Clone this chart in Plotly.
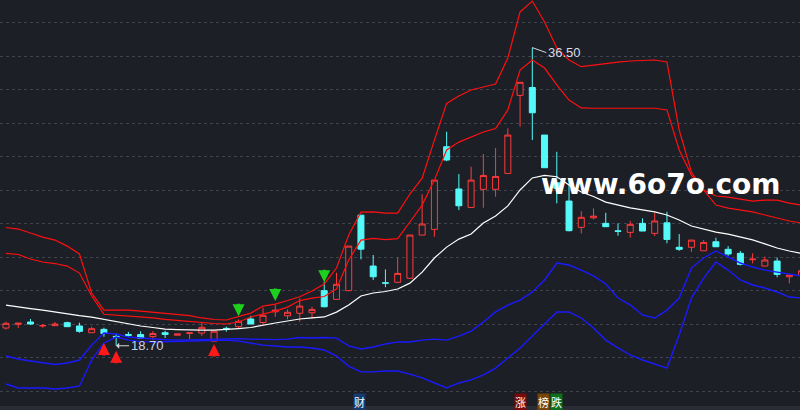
import plotly.graph_objects as go

# ---- data ----
idx = list(range(66))
opens = [19.76,19.98,20.12,19.88,19.90,20.08,19.88,19.48,19.68,19.26,19.37,19.37,19.25,19.48,19.33,19.44,19.46,18.98,19.74,19.84,
         20.30,20.09,20.73,20.49,20.64,20.67,21.99,21.47,21.99,26.50,23.46,22.46,22.49,22.73,25.31,25.65,30.58,28.06,26.96,28.04,
         28.04,28.99,33.65,34.12,31.28,28.43,27.34,25.77,26.34,26.01,25.56,25.47,26.01,25.41,26.04,24.58,24.58,24.37,24.91,24.46,
         24.22,23.84,23.46,23.76,22.82,22.90]
highs = [20.15,20.06,20.30,20.00,20.12,20.14,20.08,19.84,19.78,19.43,19.53,19.57,19.57,19.60,19.41,19.47,20.08,19.57,19.84,20.27,
         20.49,20.98,21.13,20.87,21.53,21.03,22.52,23.06,24.65,26.50,24.12,23.26,23.96,25.31,27.74,28.59,31.48,28.95,29.39,30.15,
         30.50,31.68,34.43,36.50,31.28,30.28,28.64,26.74,26.90,26.64,26.01,26.16,26.31,26.64,26.70,25.37,25.01,25.01,25.15,24.65,
         24.36,24.22,24.02,23.96,22.92,23.20]
lows = [19.67,19.76,19.95,19.78,19.90,19.84,19.48,19.48,19.24,18.70,19.24,19.12,19.07,19.16,19.33,19.09,19.30,18.98,19.54,19.70,
        19.98,19.94,20.43,20.28,20.13,20.34,21.00,21.45,21.99,23.86,22.62,22.20,22.49,22.73,25.31,25.21,29.72,26.80,26.96,26.94,
        27.60,28.99,31.78,30.98,29.33,27.20,25.53,25.41,26.25,25.79,25.27,25.15,25.55,25.25,24.82,24.37,24.31,24.37,24.61,24.07,
        23.50,23.62,23.46,22.79,22.43,22.90]
closes = [20.04,20.05,20.00,19.91,20.00,19.84,19.56,19.72,19.43,19.22,19.33,19.15,19.43,19.38,19.41,19.47,19.80,19.57,19.70,20.16,
          20.00,20.52,20.83,20.70,21.07,20.87,21.03,22.37,24.65,24.47,22.82,22.44,23.02,25.31,25.97,28.59,29.79,27.06,28.59,28.87,
          28.81,31.28,34.43,32.61,29.33,28.10,25.57,26.37,26.44,25.81,25.53,25.95,25.55,26.15,25.05,24.46,25.01,24.87,24.61,24.18,
          23.56,23.87,23.82,22.96,22.92,23.18]

mid_line = [21.13,21.01,20.92,20.83,20.71,20.59,20.50,20.41,20.27,20.12,20.00,19.88,19.79,19.70,19.67,19.64,19.64,19.64,19.67,19.73,
            19.79,19.94,20.06,20.18,20.30,20.36,20.42,20.71,21.13,21.67,21.85,21.94,22.09,22.44,23.10,23.94,24.59,25.07,25.37,26.03,
            26.45,27.05,28.00,28.72,28.87,28.79,28.30,27.88,27.61,27.28,27.10,26.93,26.81,26.69,26.51,26.21,25.85,25.67,25.49,25.37,
            25.19,25.02,24.78,24.54,24.36,24.21]
upper_outer = [25.76,25.67,25.43,25.19,25.01,24.65,24.18,21.85,20.83,20.83,20.83,20.77,20.71,20.65,20.59,20.50,20.36,20.27,20.24,20.43,
               20.65,21.07,21.19,21.40,21.63,21.97,22.39,23.34,25.31,26.68,26.70,26.62,26.62,27.76,28.71,30.98,33.17,33.61,33.97,34.15,
               34.33,35.88,38.63,39.28,38.03,36.48,35.76,35.36,35.46,35.56,35.64,35.70,35.73,35.76,35.64,31.58,29.07,28.00,27.64,27.58,
               27.46,27.34,27.40,27.40,27.22,27.10]
upper_inner = [24.22,24.15,23.88,23.70,23.61,23.46,23.04,21.67,20.58,20.53,20.50,20.45,20.36,20.28,20.21,20.18,20.09,20.03,20.00,20.12,
               20.42,20.59,20.77,21.01,21.40,21.55,21.64,22.09,23.82,25.01,25.11,25.04,25.10,26.09,27.10,28.59,30.39,30.86,31.16,31.46,
               31.67,32.78,35.16,35.76,35.28,34.27,33.37,32.90,32.88,32.88,32.88,32.88,32.88,32.88,32.78,30.39,28.89,28.00,27.10,26.92,
               26.81,26.69,26.51,26.33,26.15,26.03]
lower_inner = [18.09,17.91,17.79,17.67,17.58,17.67,17.85,18.74,19.46,19.40,19.22,19.16,19.10,19.07,19.04,19.04,19.07,19.10,19.13,19.13,
               19.10,19.07,19.07,19.10,19.19,19.16,19.19,19.16,18.69,18.51,18.63,18.81,18.93,18.93,19.04,19.10,19.04,19.28,19.58,20.12,
               20.72,21.13,21.43,21.91,22.63,23.64,23.52,23.22,22.87,22.39,21.55,21.14,20.54,20.36,20.83,21.55,23.34,23.94,24.36,24.00,
               23.64,23.40,23.22,23.10,22.98,22.87]
lower_outer = [16.42,16.18,16.18,16.18,16.12,16.18,16.30,17.85,18.87,19.22,19.04,18.95,18.93,18.95,18.98,19.01,19.04,19.04,19.04,18.98,
               18.87,18.74,18.69,18.63,18.63,18.57,18.45,18.09,17.49,17.14,17.14,17.19,17.19,17.01,16.78,16.48,16.18,16.48,16.66,16.96,
               17.37,17.97,18.57,19.28,20.00,20.72,20.72,20.36,19.76,19.04,18.57,18.15,17.85,17.61,17.37,19.34,21.55,22.74,23.70,23.22,
               22.63,22.33,22.15,21.91,21.61,21.55]

buy_idx = [8, 9, 17]
buy_tip = [18.86, 18.40, 18.80]
sell_idx = [19, 22, 26]
sell_tip = [20.47, 21.37, 22.50]

high_label = (43, 36.50, "36.50")
low_label = (9, 18.70, "18.70")
bottom_tags = [("财", 359, "#173a70"), ("涨", 520, "#7a0a0a"), ("榜", 543.5, "#7a4608"), ("跌", 556.5, "#0e6e1a")]

BG = "#1c1f26"
RED = "#ff3b3b"
CYAN = "#54fafa"

fig = go.Figure()
fig.add_trace(go.Candlestick(
    x=idx, open=opens, high=highs, low=lows, close=closes,
    increasing=dict(line=dict(color=RED, width=1), fillcolor=BG),
    decreasing=dict(line=dict(color=CYAN, width=1), fillcolor=CYAN),
    whiskerwidth=0, hoverinfo="skip", showlegend=False))

for ys, col, w in [(upper_outer, "#ff1010", 1.2), (upper_inner, "#ff1010", 1.2),
                   (mid_line, "#ffffff", 1.2), (lower_inner, "#1a1aff", 1.4), (lower_outer, "#1a1aff", 1.4)]:
    fig.add_trace(go.Scatter(x=idx, y=ys, mode="lines", line=dict(color=col, width=w),
                             hoverinfo="skip", showlegend=False))

for i, t in zip(buy_idx, buy_tip):
    fig.add_annotation(x=i, y=t, text="", showarrow=True, ax=0, ay=14, arrowhead=2,
                       arrowwidth=3, arrowsize=0.8, arrowcolor="#ff1a1a")
for i, t in zip(sell_idx, sell_tip):
    fig.add_annotation(x=i, y=t, text="", showarrow=True, ax=0, ay=-14, arrowhead=2,
                       arrowwidth=3, arrowsize=0.8, arrowcolor="#1ed01e")

fig.add_annotation(x=high_label[0], y=high_label[1], text=high_label[2], showarrow=True,
                   ax=14, ay=5, xanchor="left", arrowhead=0, arrowwidth=1, arrowcolor="#d8d8d8",
                   font=dict(family="Liberation Sans, Arial", size=13, color="#d8dce4"))
fig.add_annotation(x=low_label[0], y=low_label[1], text=low_label[2], showarrow=True,
                   ax=13, ay=0, xanchor="left", arrowhead=1, arrowsize=1, arrowwidth=1, arrowcolor="#d8d8d8",
                   font=dict(family="Liberation Sans, Arial", size=13, color="#c9d3e8"))

for txt, px, col in bottom_tags:
    fig.add_annotation(xref="paper", yref="paper", x=px / 800, y=1 - 402 / 410, text=txt,
                       xanchor="center", yanchor="middle",
                       showarrow=False, bgcolor=col, borderpad=0,
                       font=dict(family="Noto Sans CJK SC", size=11, color="#ffffff"))

fig.add_annotation(xref="paper", yref="paper", x=661 / 800, y=1 - 185 / 410, text="<b>www.6o7o.com</b>",
                   xanchor="center", yanchor="middle",
                   showarrow=False, font=dict(family="DejaVu Sans", size=28, color="#ffffff"))

fig.add_shape(type="rect", xref="paper", yref="paper", x0=0, x1=1, y0=0, y1=4 / 410,
              fillcolor="#2a2d35", line=dict(width=0), layer="above")

fig.update_layout(
    width=800, height=410, margin=dict(l=0, r=0, t=0, b=0),
    paper_bgcolor=BG, plot_bgcolor=BG,
    xaxis=dict(range=[-0.49, 64.87], visible=False, rangeslider=dict(visible=False), fixedrange=True),
    yaxis=dict(range=[14.866, 39.343], showticklabels=False, zeroline=False, tick0=0, dtick=2,
               gridcolor="#3e434e", griddash="dot", gridwidth=1),
)
fig.write_html("out.html", config={"displayModeBar": False},
               post_script="document.body.style.margin='0';document.body.style.overflow='hidden';")
